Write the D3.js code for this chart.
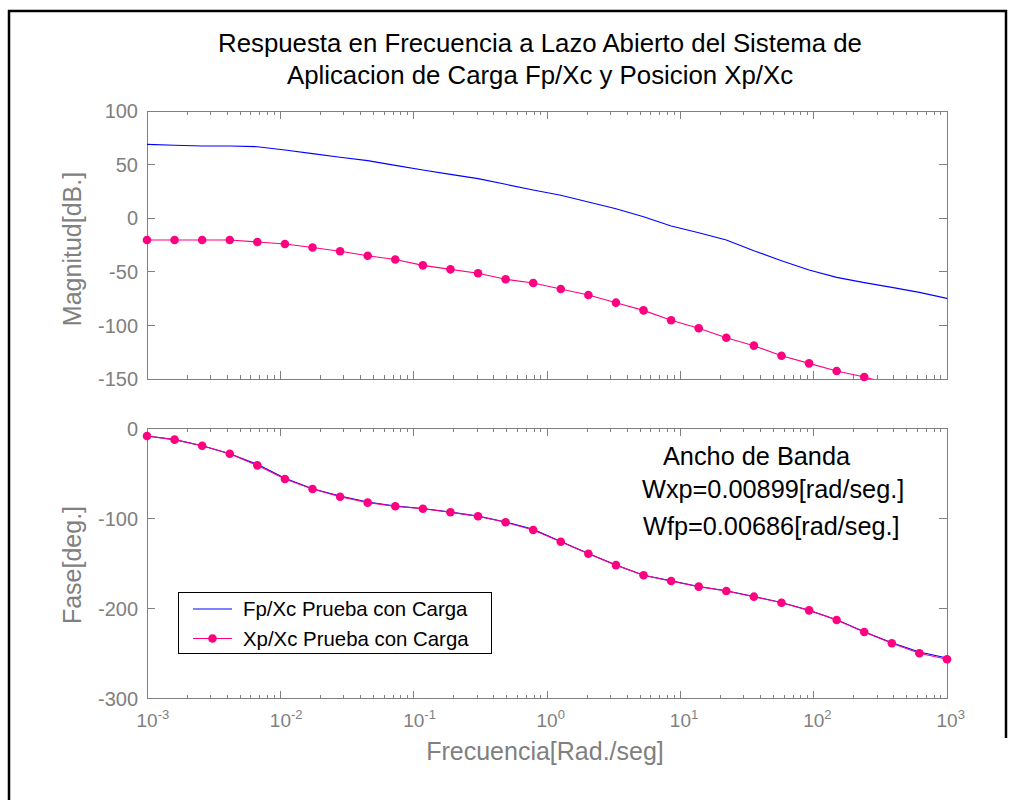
<!DOCTYPE html>
<html>
<head>
<meta charset="utf-8">
<script src="https://cdn.jsdelivr.net/npm/d3@7"></script>
<style>
  html, body { margin: 0; padding: 0; background: #fff; }
  svg { display: block; font-family: "Liberation Sans", Arial, sans-serif; }
</style>
</head>
<body>
<svg id="chart" width="1010" height="800"></svg>
<script>
// Frequency grid (rad/s), 30 log-spaced samples from 1e-3 to 1e3
const freq = [0.001, 0.001610, 0.002593, 0.004175, 0.006723, 0.010826, 0.017433, 0.028072,
  0.045204, 0.072790, 0.11721, 0.18874, 0.30392, 0.48939, 0.78805, 1.2690, 2.0434, 3.2903,
  5.2983, 8.5317, 13.738, 22.122, 35.622, 57.362, 92.367, 148.74, 239.50, 385.66, 621.02, 1000];

// Magnitude [dB]
const magFp = [68.9, 68.0, 67.3, 67.3, 66.7, 63.6, 60.2, 56.8, 53.7, 49.3, 45.0, 40.9, 36.9,
  31.6, 26.3, 21.4, 15.1, 8.8, 1.4, -7.3, -13.5, -20.3, -30.3, -39.6, -48.3, -55.2, -60.1,
  -64.5, -69.2, -74.8];
const magXp = [-20.3, -20.3, -20.3, -20.3, -22.2, -24.0, -27.3, -30.8, -35.0, -38.5, -44.0,
  -47.7, -51.4, -57.0, -60.5, -66.0, -71.6, -78.8, -86.0, -95.2, -102.7, -111.5, -118.9,
  -128.3, -135.4, -142.5, -148.1, -155.0, -161.0, -167.0];

// Phase [deg]
const phaseFp = [-8.5, -12.6, -19.3, -28.2, -40.0, -55.5, -67.0, -75.2, -81.8, -86.3, -89.0,
  -93.0, -97.4, -104.0, -112.0, -125.5, -139.0, -151.6, -163.0, -169.3, -175.5, -180.3,
  -186.6, -193.3, -201.8, -212.5, -225.8, -238.0, -248.2, -254.8];
const phaseXp = [-8.5, -12.6, -19.3, -28.2, -41.1, -56.3, -67.3, -75.9, -82.5, -86.5, -89.2,
  -93.2, -97.6, -104.3, -112.8, -125.8, -139.1, -151.8, -163.1, -169.4, -175.7, -180.5,
  -186.8, -193.5, -202.0, -212.7, -226.0, -238.5, -249.6, -256.3];

// Axis ticks
const xDecades = [-3, -2, -1, 0, 1, 2, 3];
const magTicks = [100, 50, 0, -50, -100, -150];
const phaseTicks = [0, -100, -200, -300];

// Texts
const titleLines = ["Respuesta en Frecuencia a Lazo Abierto del Sistema de",
                    "Aplicacion de Carga Fp/Xc y Posicion Xp/Xc"];
const legendLabels = ["Fp/Xc Prueba con Carga", "Xp/Xc Prueba con Carga"];
const noteLines = ["Ancho de Banda", "Wxp=0.00899[rad/seg.]", "Wfp=0.00686[rad/seg.]"];

const BLUE = "#0000ff", PINK = "#ff0080", GRAY = "#808080";

const svg = d3.select("#chart");

// Outer frame
svg.append("path")
  .attr("d", "M9,800 L9,11 L1006,11 L1006,738")
  .attr("fill", "none").attr("stroke", "#000").attr("stroke-width", 2.5);

const x = d3.scaleLog().domain([1e-3, 1e3]).range([147, 947]);
const yMag = d3.scaleLinear().domain([-150, 100]).range([379, 111]);
const yPh = d3.scaleLinear().domain([-300, 0]).range([698.7, 428.3]);

// Minor tick positions (2..9 in every decade)
const minor = [];
for (let e = -3; e < 3; e++) for (let m = 2; m <= 9; m++) minor.push(m * Math.pow(10, e));

function drawAxes(y, yTicks, id) {
  const [x0, x1] = x.range();
  const [yb, yt] = y.range();
  const g = svg.append("g");
  // clip region for the curves
  svg.append("clipPath").attr("id", id)
    .append("rect").attr("x", x0).attr("y", yt).attr("width", x1 - x0).attr("height", yb - yt);

  const tk = g.append("g").attr("stroke", GRAY).attr("stroke-width", 1).attr("shape-rendering", "crispEdges");
  // x major & minor ticks, inward, top and bottom
  xDecades.forEach(d => {
    const px = x(Math.pow(10, d));
    tk.append("line").attr("x1", px).attr("x2", px).attr("y1", yb).attr("y2", yb - 8);
    tk.append("line").attr("x1", px).attr("x2", px).attr("y1", yt).attr("y2", yt + 8);
  });
  minor.forEach(v => {
    const px = x(v);
    tk.append("line").attr("x1", px).attr("x2", px).attr("y1", yb).attr("y2", yb - 4);
    tk.append("line").attr("x1", px).attr("x2", px).attr("y1", yt).attr("y2", yt + 4);
  });
  // y ticks, inward, left and right
  yTicks.forEach(v => {
    const py = y(v);
    tk.append("line").attr("x1", x0).attr("x2", x0 + 8).attr("y1", py).attr("y2", py);
    tk.append("line").attr("x1", x1).attr("x2", x1 - 8).attr("y1", py).attr("y2", py);
  });
  // box
  g.append("rect").attr("x", x0).attr("y", yt).attr("width", x1 - x0).attr("height", yb - yt)
    .attr("fill", "none").attr("stroke", GRAY).attr("stroke-width", 1).attr("shape-rendering", "crispEdges");
  // y tick labels
  g.append("g").selectAll("text").data(yTicks).join("text")
    .attr("x", x0 - 9).attr("y", d => y(d)).attr("dy", "0.36em")
    .attr("text-anchor", "end").attr("fill", GRAY).attr("font-size", 20)
    .text(d => d);
  return g;
}

function drawCurve(y, values, color, clipId) {
  const line = d3.line().x((d, i) => x(freq[i])).y(d => y(d));
  svg.append("path").datum(values)
    .attr("clip-path", `url(#${clipId})`)
    .attr("d", line).attr("fill", "none").attr("stroke", color).attr("stroke-width", 1.1);
}

function drawMarkers(y, values, color) {
  const [lo, hi] = y.domain();
  svg.append("g").selectAll("circle")
    .data(values.map((v, i) => ({ f: freq[i], v })).filter(d => d.v >= lo && d.v <= hi))
    .join("circle")
    .attr("cx", d => x(d.f)).attr("cy", d => y(d.v)).attr("r", 4.3)
    .attr("fill", color);
}

// ---- Magnitude subplot
drawAxes(yMag, magTicks, "clipMag");
drawCurve(yMag, magFp, BLUE, "clipMag");
drawCurve(yMag, magXp, PINK, "clipMag");
drawMarkers(yMag, magXp, PINK);

// ---- Phase subplot
drawAxes(yPh, phaseTicks, "clipPh");
drawCurve(yPh, phaseFp, BLUE, "clipPh");
drawCurve(yPh, phaseXp, PINK, "clipPh");
drawMarkers(yPh, phaseXp, PINK);

// x tick labels (powers of ten) under the phase plot; the base "10" is centred on the tick
const xl = svg.append("g").attr("fill", GRAY);
xDecades.forEach(d => {
  const t = xl.append("text").attr("x", x(Math.pow(10, d)) - 10.5).attr("y", 727)
    .attr("text-anchor", "start").attr("font-size", 19);
  t.append("tspan").text("10");
  t.append("tspan").attr("dy", -8).attr("font-size", 13).text(d);
});

// Axis labels
svg.append("text").attr("x", 545).attr("y", 760).attr("text-anchor", "middle")
  .attr("fill", GRAY).attr("font-size", 25).text("Frecuencia[Rad./seg]");
svg.append("text").attr("transform", "translate(81,249) rotate(-90)").attr("text-anchor", "middle")
  .attr("fill", GRAY).attr("font-size", 25).text("Magnitud[dB.]");
svg.append("text").attr("transform", "translate(81,565) rotate(-90)").attr("text-anchor", "middle")
  .attr("fill", GRAY).attr("font-size", 25).text("Fase[deg.]");

// Title
svg.append("g").selectAll("text").data(titleLines).join("text")
  .attr("x", 540).attr("y", (d, i) => 52 + i * 32).attr("text-anchor", "middle")
  .attr("fill", "#000").attr("font-size", 25.8).text(d => d);

// Bandwidth note
const notes = svg.append("g").attr("fill", "#000").attr("font-size", 25.3);
notes.append("text").attr("x", 663).attr("y", 465).text(noteLines[0]);
notes.append("text").attr("x", 642).attr("y", 498).text(noteLines[1]);
notes.append("text").attr("x", 643).attr("y", 535).text(noteLines[2]);

// Legend
const lg = svg.append("g");
lg.append("rect").attr("x", 178.5).attr("y", 592.5).attr("width", 313).attr("height", 61)
  .attr("fill", "#fff").attr("stroke", "#000").attr("stroke-width", 1).attr("shape-rendering", "crispEdges");
const legendItems = [{ label: legendLabels[0], color: BLUE, marker: false, y: 609 },
                     { label: legendLabels[1], color: PINK, marker: true, y: 638.5 }];
legendItems.forEach(it => {
  lg.append("line").attr("x1", 193).attr("x2", 232).attr("y1", it.y).attr("y2", it.y)
    .attr("stroke", it.color).attr("stroke-width", 1.1);
  if (it.marker) lg.append("circle").attr("cx", 212.5).attr("cy", it.y).attr("r", 4.3).attr("fill", it.color);
  lg.append("text").attr("x", 243).attr("y", it.y + 7.3).attr("font-size", 20.4)
    .attr("fill", "#000").text(it.label);
});
</script>
</body>
</html>
